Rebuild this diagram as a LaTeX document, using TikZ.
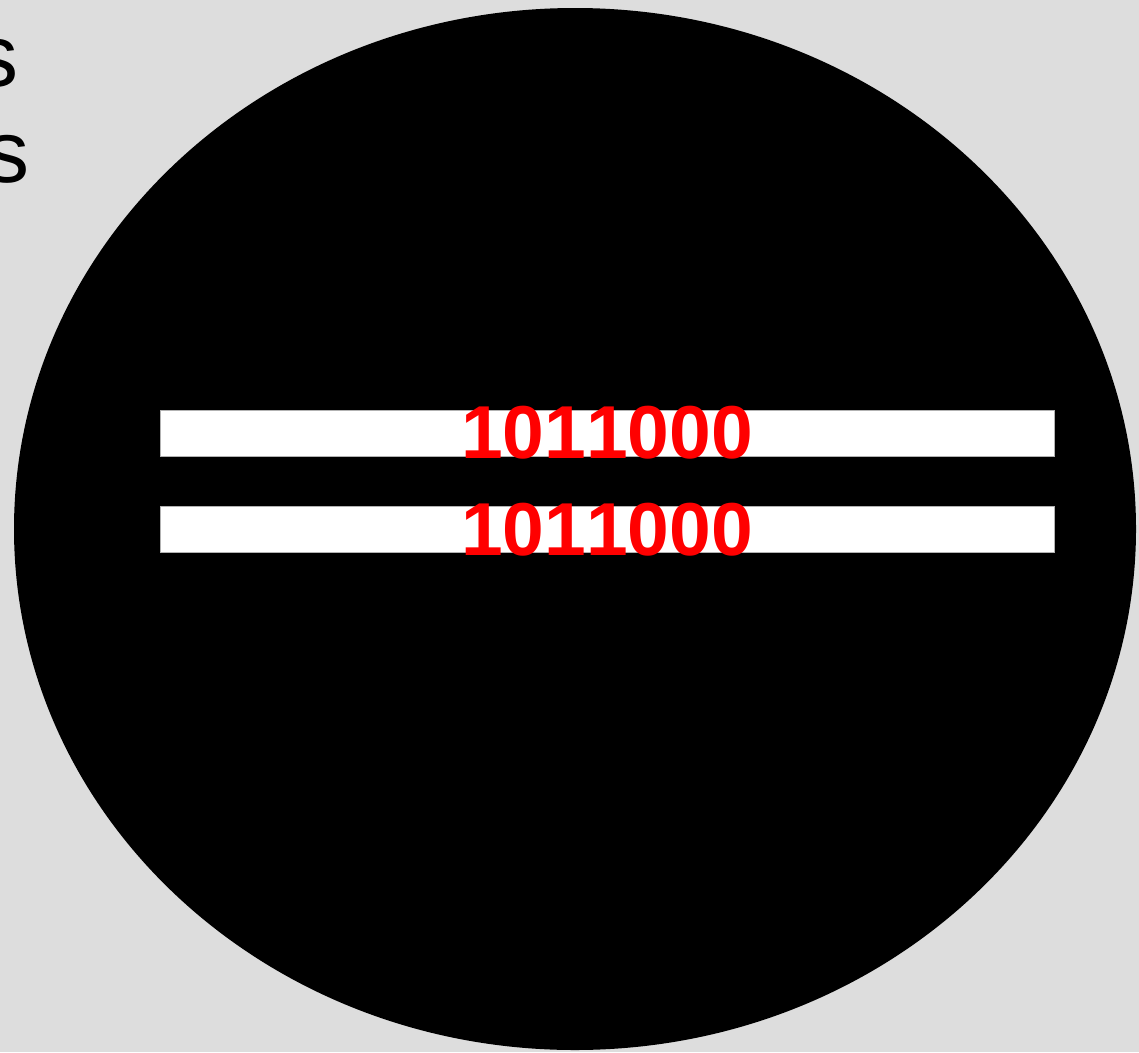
\documentclass[tikz,border=0pt]{standalone}
\usepackage{fontspec}
\setmainfont{Liberation Sans}[Kerning=Off]
\definecolor{bg}{HTML}{DDDDDD}
\definecolor{red0}{HTML}{FF0000}
\tikzset{
  bar/.style={draw=gray!60, line width=0.8pt, fill=white},
  bits/.style={text=red0, font=\fontsize{75}{75}\selectfont\bfseries, inner sep=0pt},
  cut/.style={text=black, font=\fontsize{88}{88}\selectfont, inner sep=0pt, anchor=base east}
}
\begin{document}
\begin{tikzpicture}[x=1pt,y=-1pt]
\fill[bg] (0,0) rectangle (1139,1052);
\useasboundingbox (0,0) rectangle (1139,1052);
\fill[black] (575,529) ellipse [x radius=561, y radius=521];
\node[cut] (s1) at (19,86) {s};
\node[cut] (s2) at (30,182) {s};
\draw[bar] (160,410) rectangle (1054,456);
\draw[bar] (160,506) rectangle (1054,552);
\node[bits] (b1) at (607,433) {1011000};
\node[bits] (b2) at (607,530) {1011000};
\end{tikzpicture}
\end{document}
